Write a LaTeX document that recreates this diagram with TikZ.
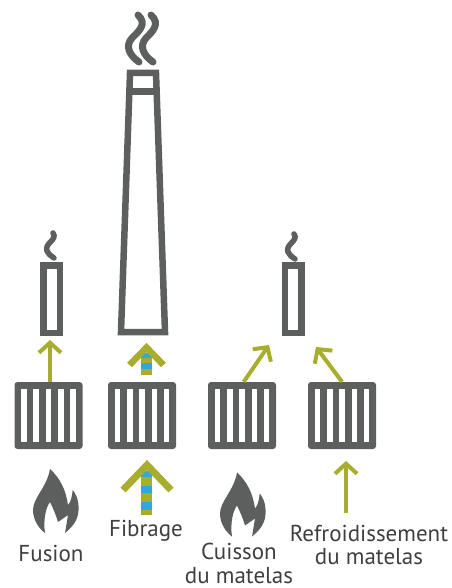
\documentclass[tikz,border=0pt]{standalone}
\usepackage{fontspec}
\setmainfont{PT Sans}
\usetikzlibrary{arrows.meta}
\definecolor{stackgray}{HTML}{5D5F5F}
\definecolor{heatolive}{HTML}{A8AD2D}
\definecolor{fibreblue}{HTML}{2FA9DC}
\definecolor{labelgray}{HTML}{3E3F40}
\tikzset{
    stack/.style={draw=stackgray,line width=6.5pt,inner sep=0pt,minimum width=16.5pt,minimum height=67.5pt},
    chimney/.style={draw=stackgray,line width=6.5pt,miter limit=10},
    smoke/.style={draw=stackgray,line width=5.5pt,line cap=round},
    radiator/.style={fill=stackgray,rounded corners=3pt,inner sep=0pt,minimum width=68pt,minimum height=67pt},
    thinarrow/.style={draw=heatolive,line width=4pt,-{Straight Barb[length=10pt,width=22pt,line width=4pt]}},
    chevron/.style={draw=heatolive,miter limit=10},
    flame/.style={fill=stackgray},
    lecter/.style={text=labelgray,font=\fontsize{23}{23.5}\selectfont,align=center,inner sep=0pt}
}
\newcommand{\flamepath}[2]{%
    \fill[flame,shift={(#1,#2)}] (50,469) .. controls (60,478) and (66,490) .. (68,505)
        .. controls (71,502) and (72,496) .. (72.7,490) .. controls (79,497) and (80,510) .. (77,518)
        .. controls (75,524) and (70,529) .. (65,533) -- (68,515) -- (58,522)
        .. controls (56,515) and (53,508) .. (50,502) .. controls (46,507) and (43,520) .. (45,533)
        .. controls (38,528) and (33,519) .. (33,510) .. controls (33,498) and (47,487) .. (50,469) -- cycle;}
\begin{document}
\begin{tikzpicture}[x=1pt,y=-1pt]
    \useasboundingbox (0,0) rectangle (451,588);
    % stacks
    \node[stack] (stackA) at (51.5,299) {};
    \node[stack] (stackC) at (293,299) {};
    \draw[chimney] (130,73) -- (156,73) -- (165,332) -- (121,332) -- cycle;
    \draw[chimney] (128.8,91.5) -- (157.2,91.5);
    % smoke
    \draw[smoke] (53,233) .. controls (58,240) and (44,243) .. (47,251) .. controls (48,254) and (51,256) .. (54,258);
    \draw[smoke] (294,234) .. controls (299,241) and (285,244) .. (288,252) .. controls (289,255) and (292,257) .. (295,259);
    \draw[smoke,line width=7pt] (138,15) .. controls (148,24) and (138,32) .. (132,38) .. controls (125,46) and (129,55) .. (139,62);
    \draw[smoke,line width=7pt] (151,15) .. controls (161,24) and (152,32) .. (146,38) .. controls (139,46) and (143,55) .. (153,62);
    % radiators
    \node[radiator] (radA) at (48.5,415.5) {};
    \node[radiator] (radB) at (142,415.5) {};
    \node[radiator] (radC) at (242,415.5) {};
    \node[radiator] (radD) at (342,415.5) {};
    \foreach \r in {radA,radB,radC,radD}
        \foreach \s in {-24.6,-12.3,0,12.3,24.6}
            \fill[white] ([shift={(\s-2.8,-26.5)}]\r.center) rectangle ++(5.6,53);
    % arrows
    \coordinate (tipA) at (50,340);
    \coordinate (tipC) at (269,345);
    \coordinate (tipD) at (316,347);
    \coordinate (tipE) at (346,461);
    \coordinate (tailE) at (346,513);
    \draw[thinarrow] (radA.north -| tipA) -- (tipA);
    \draw[thinarrow] (radC.87) -- (tipC);
    \draw[thinarrow] (radD.north) -- (tipD);
    \draw[thinarrow] (tailE) -- (tipE);
    % striped arrows
    \foreach \ya/\yb/\col in {353/358/fibreblue,358/363/heatolive,363/369/fibreblue,369/375/heatolive}
        \fill[\col] (141,\ya) rectangle (152,\yb);
    \foreach \ya/\yb/\col in {471/477/fibreblue,477/486/heatolive,486/493/fibreblue,493/502/heatolive,502/510/fibreblue,510/515/heatolive}
        \fill[\col] (141,\ya) rectangle (152,\yb);
    \draw[chevron,line width=6.5pt] (129.5,365) -- (146.5,347.5) -- (163.5,365);
    \draw[chevron,line width=7pt] (123,490) -- (147,465) -- (171,490);
    % flames
    \flamepath{0}{0}
    \flamepath{187}{3.5}
    % lecter
    \node[lecter] (fusion) at (51,553.5) {Fusion};
    \node[lecter] (fibrage) at (146,531) {Fibrage};
    \node[lecter] (cuisson) at (239,563.5) {Cuisson\\du matelas};
    \node[lecter] (refroid) at (369,545) {Refroidissement\\du matelas};
\end{tikzpicture}
\end{document}
